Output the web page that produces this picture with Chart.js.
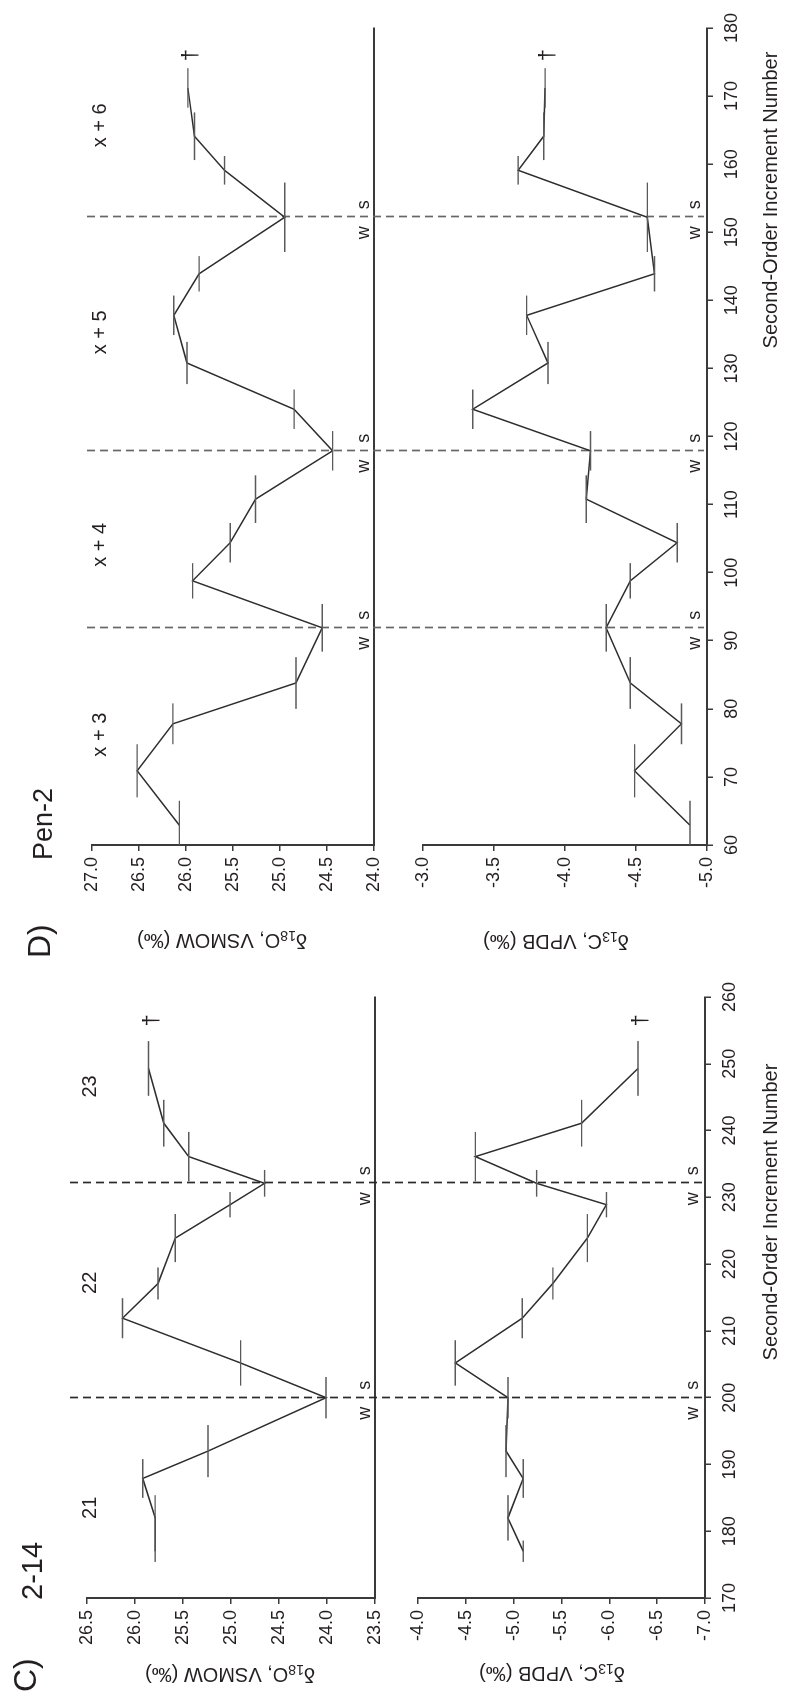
<!DOCTYPE html>
<html>
<head>
<meta charset="utf-8">
<script src="https://cdn.jsdelivr.net/npm/chart.js@4.4.1/dist/chart.umd.min.js"></script>
<style>
  html, body { margin: 0; padding: 0; background: #fff; }
  body { width: 785px; height: 1692px; overflow: hidden; position: relative; }
  /* the figure is laid out landscape and turned a quarter-turn for the portrait page */
  #fig {
    position: absolute; left: 0; top: 0; width: 1692px; height: 785px;
    transform-origin: 0 0; transform: translate(0, 1692px) rotate(-90deg);
    color: #231f20; font-family: 'Liberation Sans', 'Open Sans', sans-serif;
  }
  #fig canvas { position: absolute; }
  .t { position: absolute; white-space: nowrap; line-height: 1; }
  .yt { transform: translate(-50%, -50%) rotate(-90deg); font-size: 20px; font-family: 'Liberation Sans', sans-serif; }
  .xt { transform: translate(-50%, -50%); font-size: 20px; font-family: 'Liberation Sans Narrow', 'Liberation Sans', sans-serif; }
  .yt sub { font-size: 70%; vertical-align: -0.25em; }
</style>
</head>
<body>
<div id="fig">
  <canvas id="c18" width="740" height="400" style="left:0;top:0"></canvas>
  <canvas id="c13" width="740" height="385" style="left:0;top:400px"></canvas>
  <canvas id="d18" width="930" height="400" style="left:760px;top:0"></canvas>
  <canvas id="d13" width="930" height="385" style="left:760px;top:400px"></canvas>

  <div class="t" style="left:0;top:9px;font-size:32px">C)</div>
  <div class="t" style="left:92px;top:18px;font-size:29px">2-14</div>
  <div class="t" style="left:734px;top:23px;font-size:32px">D)</div>
  <div class="t" style="left:832px;top:30px;font-size:27px">Pen-2</div>

  <div class="t yt" style="left:18px;top:230px">δ<sub>18</sub>O, VSMOW (‰)</div>
  <div class="t yt" style="left:19px;top:552px">δ<sub>13</sub>C, VPDB (‰)</div>
  <div class="t yt" style="left:752px;top:222px">δ<sub>18</sub>O, VSMOW (‰)</div>
  <div class="t yt" style="left:751px;top:556px">δ<sub>13</sub>C, VPDB (‰)</div>

  <div class="t xt" style="left:480px;top:770px">Second-Order Increment Number</div>
  <div class="t xt" style="left:1492px;top:770px">Second-Order Increment Number</div>
</div>

<script>
// ---- Sample 2-14 (panel C) ----
const incC  = [177.0, 182.0, 187.9, 192.0, 200.0, 205.2, 211.9, 217.1, 223.9, 228.9, 232.1, 236.1, 241.1, 249.3];
const errC  = [1.6, 3.4, 2.9, 3.9, 3.1, 3.4, 3.0, 2.4, 3.6, 1.9, 2.0, 3.7, 3.5, 4.1];
const d18C  = [25.79, 25.79, 25.92, 25.24, 24.01, 24.90, 26.13, 25.76, 25.58, 25.01, 24.65, 25.44, 25.70, 25.86];
const d13C  = [-5.10, -4.94, -5.10, -4.92, -4.94, -4.39, -5.09, -5.41, -5.77, -5.97, -5.24, -4.60, -5.71, -6.30];
const seasonC = [200.0, 232.1];
const yearNamesC = ['21', '22', '23'];
const yearPosC   = [183.5, 217.2, 246.6];
const deathC = 256.5;
const xTicksC   = [170, 180, 190, 200, 210, 220, 230, 240, 250, 260];
const y18TicksC = [23.5, 24.0, 24.5, 25.0, 25.5, 26.0, 26.5];
const y13TicksC = [-7.0, -6.5, -6.0, -5.5, -5.0, -4.5, -4.0];

// ---- Pen-2 (panel D) ----
const incD  = [62.9, 70.9, 77.8, 83.8, 91.9, 98.8, 104.4, 110.8, 117.9, 124.0, 130.8, 137.8, 143.9, 152.2, 159.1, 164.1, 171.2];
const errD  = [3.6, 3.9, 3.0, 3.8, 3.5, 2.6, 2.9, 3.5, 2.9, 2.9, 3.1, 2.9, 2.6, 5.1, 2.1, 3.5, 2.9];
const d18D  = [26.07, 26.52, 26.14, 24.83, 24.55, 25.93, 25.53, 25.26, 24.44, 24.85, 25.99, 26.13, 25.86, 24.95, 25.59, 25.91, 25.98];
const d13D  = [-4.88, -4.49, -4.82, -4.46, -4.29, -4.46, -4.79, -4.15, -4.18, -3.35, -3.88, -3.73, -4.63, -4.58, -3.67, -3.85, -3.86];
const seasonD = [91.9, 117.9, 152.2];
const yearNamesD = ['x + 3', 'x + 4', 'x + 5', 'x + 6'];
const yearPosD   = [76.2, 104.1, 135.3, 165.7];
const deathD = 176.0;
const xTicksD   = [60, 70, 80, 90, 100, 110, 120, 130, 140, 150, 160, 170, 180];
const y18TicksD = [24.0, 24.5, 25.0, 25.5, 26.0, 26.5, 27.0];
const y13TicksD = [-5.0, -4.5, -4.0, -3.5, -3.0];

const INK = '#231f20';
const AXIS = '#3a3a3a';
const NARROW = "'Liberation Sans Narrow', 'Liberation Sans', sans-serif";
const REGULAR = "'Liberation Sans', 'Open Sans', sans-serif";
const DASH = [8, 5];

// dashed season lines, drawn under the series; the upper and lower plots share one dash rhythm
const seasonLines = {
  id: 'seasonLines',
  beforeDatasetsDraw(chart, _a, o) {
    const { ctx, chartArea: a, scales: { x } } = chart;
    ctx.save();
    ctx.setLineDash(DASH);
    ctx.lineDashOffset = o.phase;
    ctx.strokeStyle = o.color;
    ctx.lineWidth = 1.7;
    const bottom = o.toArea ? a.bottom - 3 : chart.height;
    o.values.forEach(v => {
      const px = Math.round(x.getPixelForValue(v)) + 0.5;
      ctx.beginPath(); ctx.moveTo(px, o.top); ctx.lineTo(px, bottom); ctx.stroke();
    });
    ctx.restore();
  }
};

// error bars along the increment axis, w/s marks, year labels and the end-of-life dagger
const decor = {
  id: 'decor',
  afterDatasetsDraw(chart, _a, o) {
    const { ctx, chartArea: a, scales: { x, y } } = chart;
    const ds = chart.data.datasets[0];
    ctx.save();
    ctx.beginPath(); ctx.rect(a.left, 0, a.right - a.left, chart.height); ctx.clip();
    ctx.strokeStyle = '#5a5a5a';
    ctx.lineWidth = 1.4;
    ds.data.forEach((p, i) => {
      const e = o.err[i];
      if (!e) return;
      const py = y.getPixelForValue(p.y);
      ctx.beginPath();
      ctx.moveTo(x.getPixelForValue(p.x - e), py);
      ctx.lineTo(x.getPixelForValue(p.x + e), py);
      ctx.stroke();
    });
    ctx.restore();

    ctx.save();
    ctx.fillStyle = INK;
    ctx.font = '18px ' + NARROW;
    ctx.textBaseline = 'alphabetic';
    o.season.forEach(v => {
      const px = x.getPixelForValue(v);
      ctx.textAlign = 'right'; ctx.fillText('w', px - 9, a.bottom - o.wsLift);
      ctx.textAlign = 'left';  ctx.fillText('s', px + 8, a.bottom - o.wsLift);
    });
    if (o.yearNames) {
      ctx.font = o.yearFont;
      ctx.textAlign = 'center';
      ctx.textBaseline = 'middle';
      o.yearNames.forEach((t, i) => ctx.fillText(t, x.getPixelForValue(o.yearPos[i]), o.yearY));
    }
    const last = ds.data[ds.data.length - 1];
    ctx.font = '22px ' + NARROW;
    ctx.textAlign = 'center';
    ctx.textBaseline = 'top';
    ctx.fillText('\u2020', x.getPixelForValue(o.death), y.getPixelForValue(last.y) - 8);
    ctx.restore();
  }
};

function panelChart(id, s) {
  const pts = s.inc.map((v, i) => ({ x: v, y: s.vals[i] }));
  return new Chart(document.getElementById(id), {
    type: 'line',
    data: { datasets: [{ data: pts, borderColor: '#2e2e2e', borderWidth: 1.5, pointRadius: 0, tension: 0, fill: false }] },
    plugins: [seasonLines, decor],
    options: {
      responsive: false, animation: false, events: [],
      layout: { padding: s.pad },
      plugins: {
        legend: { display: false }, tooltip: { enabled: false },
        seasonLines: { values: s.season, color: s.dashColor, top: s.dashTop, toArea: s.showX, phase: s.dashPhase },
        decor: { err: s.err, season: s.season, wsLift: s.wsLift, yearNames: s.yearNames, yearPos: s.yearPos,
                 yearY: s.yearY, yearFont: s.yearFont, death: s.death }
      },
      scales: {
        x: {
          type: 'linear', min: s.xTicks[0], max: s.xTicks[s.xTicks.length - 1],
          afterBuildTicks: ax => { ax.ticks = s.xTicks.map(v => ({ value: v })); },
          afterFit: ax => { ax.height = s.xH; },
          grid: { display: true, drawOnChartArea: false, drawTicks: s.showX, tickLength: 6, color: AXIS, lineWidth: 1.5 },
          border: { display: true, color: AXIS, width: 2 },
          ticks: { display: s.showX, color: INK, font: { family: REGULAR, size: 18 }, padding: 8, maxRotation: 0, autoSkip: false }
        },
        y: {
          type: 'linear', min: s.yTicks[0], max: s.yTicks[s.yTicks.length - 1],
          afterBuildTicks: ax => { ax.ticks = s.yTicks.map(v => ({ value: v })); },
          afterFit: ax => { ax.width = s.yW; },
          grid: { display: true, drawOnChartArea: false, drawTicks: true, tickLength: 6, color: AXIS, lineWidth: 1.5 },
          border: { display: true, color: AXIS, width: 2 },
          ticks: { color: INK, font: { family: REGULAR, size: 18 }, padding: 6, autoSkip: false,
                   callback: v => Number(v).toFixed(1) }
        }
      }
    }
  });
}

const period = DASH[0] + DASH[1];

// panel C, 2-14
panelChart('c18', { inc: incC, vals: d18C, err: errC, season: seasonC, xTicks: xTicksC, yTicks: y18TicksC,
  showX: false, xH: 25, yW: 94, pad: { left: 0, right: 45, top: 87, bottom: 0 }, dashColor: '#2a2a2a', dashTop: 70, dashPhase: 0,
  wsLift: 5, yearNames: yearNamesC, yearPos: yearPosC, yearY: 90, yearFont: '20px ' + NARROW, death: deathC });
panelChart('c13', { inc: incC, vals: d13C, err: errC, season: seasonC, xTicks: xTicksC, yTicks: y13TicksC,
  showX: true, xH: 80, yW: 94, pad: { left: 0, right: 45, top: 18, bottom: 0 }, dashColor: '#2a2a2a', dashTop: 0,
  dashPhase: (400 - 70) % period, wsLift: 7, death: deathC });

// panel D, Pen-2
panelChart('d18', { inc: incD, vals: d18D, err: errD, season: seasonD, xTicks: xTicksD, yTicks: y18TicksD,
  showX: false, xH: 26, yW: 87, pad: { left: 0, right: 26, top: 92, bottom: 0 }, dashColor: '#666666', dashTop: 87, dashPhase: 0,
  wsLift: 5, yearNames: yearNamesD, yearPos: yearPosD, yearY: 100, yearFont: '20px ' + REGULAR, death: deathD });
panelChart('d13', { inc: incD, vals: d13D, err: errD, season: seasonD, xTicks: xTicksD, yTicks: y13TicksD,
  showX: true, xH: 78, yW: 87, pad: { left: 0, right: 26, top: 23, bottom: 0 }, dashColor: '#666666', dashTop: 0,
  dashPhase: (400 - 87) % period, wsLift: 7, death: deathD });
</script>
</body>
</html>
